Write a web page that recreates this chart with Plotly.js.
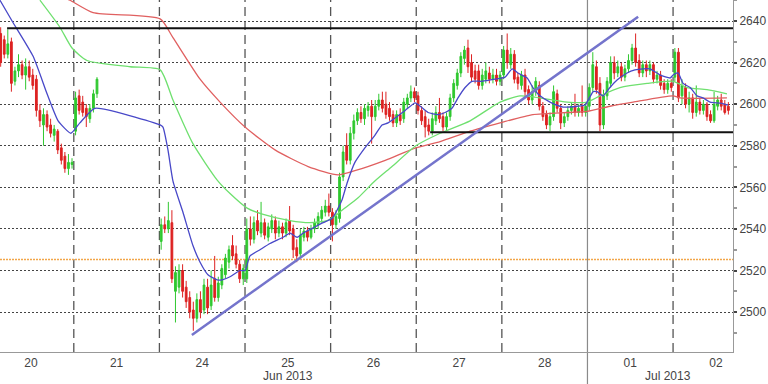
<!DOCTYPE html>
<html><head><meta charset="utf-8">
<script src="https://cdn.plot.ly/plotly-3.0.1.min.js"></script>
<style>html,body{margin:0;padding:0;background:#fff}#chart{width:768px;height:384px}</style>
</head><body><div id="chart"></div>
<script>
// ---- data ----
const dayLabels = ['20','21','24','25','26','27','28','01','02'];
const barsPerDay = 24;
const firstSlot = [3,0,0,0,0,0,0,0,0];
// [open, high, low, close]
const jun20 = [[2634,2637,2618,2620],[2631,2633,2622,2624],[2624,2636,2622,2629],[2630,2632,2606,2610],[2611,2618,2609,2616],[2616,2624,2613,2619],[2619,2621,2612,2614],[2614,2622,2607,2618],[2618,2621,2611,2613],[2614,2617,2607,2609],[2612,2614,2594,2597],[2597,2600,2589,2592],[2590,2598,2580,2595],[2595,2597,2587,2589],[2590,2593,2584,2586],[2585,2590,2582,2588],[2587,2588,2576,2578],[2579,2581,2571,2573],[2575,2577,2567,2569],[2569,2576,2566,2572],[2571,2574,2569,2572]];
const jun21 = [[2587,2606,2585,2603],[2604,2607,2595,2597],[2601,2604,2594,2596],[2598,2600,2589,2594],[2593,2600,2591,2598],[2598,2607,2596,2605],[2605,2613,2603,2612]];
const jun24 = [[2534,2545,2530,2542],[2542,2546,2538,2540],[2540,2553,2538,2544],[2543,2549,2514,2516],[2510,2522,2495,2519],[2512,2523,2509,2520],[2520,2523,2507,2510],[2512,2515,2502,2505],[2507,2510,2497,2500],[2501,2505,2491,2497],[2497,2509,2495,2506],[2506,2510,2497,2500],[2501,2516,2499,2513],[2512,2516,2499,2502],[2503,2520,2501,2513],[2516,2527,2505,2507],[2507,2517,2505,2514],[2513,2523,2511,2521],[2518,2528,2516,2526],[2524,2532,2521,2530],[2532,2537,2525,2527],[2528,2532,2521,2523],[2523,2525,2514,2516],[2516,2523,2513,2521]];
const jun25 = [[2516,2545,2514,2540],[2540,2546,2532,2535],[2535,2546,2533,2543],[2544,2549,2537,2539],[2538,2553,2536,2543],[2543,2545,2535,2537],[2536,2543,2534,2541],[2540,2547,2538,2544],[2544,2546,2535,2538],[2538,2544,2536,2541],[2541,2543,2535,2538],[2538,2545,2536,2543],[2544,2551,2537,2539],[2540,2542,2526,2530],[2531,2535,2524,2527],[2528,2540,2526,2537],[2536,2541,2534,2539],[2539,2541,2534,2536],[2536,2542,2535,2540],[2540,2545,2538,2543],[2542,2548,2540,2546],[2545,2551,2543,2549],[2548,2554,2546,2551],[2551,2557,2546,2548]];
const jun26 = [[2548,2550,2534,2542],[2542,2549,2540,2546],[2545,2567,2543,2565],[2565,2580,2563,2577],[2580,2586,2571,2573],[2573,2589,2571,2586],[2586,2595,2583,2592],[2592,2598,2590,2596],[2596,2599,2591,2593],[2593,2600,2590,2598],[2597,2601,2594,2599],[2599,2602,2581,2594],[2594,2602,2592,2599],[2599,2605,2597,2602],[2602,2606,2596,2598],[2600,2606,2593,2595],[2598,2601,2592,2594],[2595,2597,2589,2591],[2591,2597,2589,2595],[2595,2598,2590,2592],[2593,2603,2591,2601],[2600,2605,2598,2603],[2603,2609,2601,2606],[2606,2608,2601,2603]];
const jun27 = [[2604,2606,2595,2597],[2597,2599,2590,2592],[2594,2597,2584,2589],[2590,2593,2585,2587],[2587,2596,2585,2593],[2592,2599,2590,2596],[2596,2603,2591,2593],[2594,2596,2587,2589],[2589,2596,2587,2594],[2594,2605,2592,2603],[2603,2612,2601,2610],[2609,2617,2607,2615],[2615,2625,2613,2623],[2622,2628,2619,2626],[2627,2631,2615,2618],[2620,2624,2611,2613],[2616,2619,2610,2612],[2616,2619,2607,2609],[2609,2617,2607,2614],[2612,2620,2610,2616],[2615,2618,2610,2612],[2612,2617,2610,2614],[2614,2617,2609,2611],[2611,2616,2609,2614]];
const jun28 = [[2614,2628,2612,2626],[2626,2634,2617,2620],[2619,2627,2617,2624],[2624,2626,2610,2612],[2613,2615,2607,2610],[2609,2616,2607,2614],[2614,2617,2603,2606],[2607,2609,2600,2602],[2602,2609,2600,2606],[2606,2613,2604,2611],[2609,2611,2597,2599],[2599,2601,2592,2594],[2595,2597,2588,2590],[2590,2596,2587,2594],[2594,2609,2592,2606],[2605,2607,2596,2598],[2598,2600,2588,2591],[2591,2596,2589,2594],[2594,2599,2592,2597],[2597,2601,2595,2599],[2599,2605,2594,2596],[2596,2600,2594,2598],[2599,2609,2594,2596],[2596,2601,2594,2599]];
const jul01 = [[2599,2610,2597,2608],[2608,2625,2606,2619],[2618,2621,2605,2607],[2610,2613,2587,2590],[2590,2607,2588,2604],[2604,2613,2602,2611],[2610,2623,2608,2620],[2620,2623,2612,2615],[2615,2621,2613,2618],[2618,2620,2611,2613],[2613,2619,2611,2617],[2617,2624,2615,2621],[2621,2629,2619,2627],[2627,2634,2618,2620],[2621,2624,2613,2615],[2615,2621,2613,2619],[2619,2621,2613,2616],[2616,2621,2614,2619],[2619,2620,2610,2612],[2612,2616,2610,2614],[2614,2616,2607,2609],[2610,2612,2605,2607],[2607,2612,2605,2610],[2610,2612,2606,2608]];
const jul02 = [[2613,2627,2611,2625],[2625,2627,2601,2603],[2604,2612,2600,2609],[2608,2610,2598,2600],[2600,2606,2596,2603],[2603,2605,2593,2596],[2596,2609,2594,2601],[2601,2603,2595,2597],[2597,2602,2595,2600],[2600,2601,2592,2594],[2595,2597,2591,2592],[2592,2606,2591,2600],[2599,2604,2597,2602],[2602,2605,2597,2599],[2600,2602,2595,2596],[2599,2601,2595,2597]];
const sessions = [jun20, jun21, jun24, jun25, jun26, jun27, jun28, jul01, jul02];

// moving averages (time in bar units, value)
const maFastT = [3.3,6.7,12.6,16.5,19.6,23.2,25.7,29.9,48.2,49.0,50.4,51.8,54.6,57.4,59.4,61.6,64.2,65.6,67.8,70.6,72.0,73.4,76.2,79.0,82.7,84.6,86.6,88.3,91.1,93.9,96.4,97.8,99.2,100.6,102.8,105.6,108.4,110.4,112.1,116.9,119.7,121.1,123.3,126.1,128.1,130.0,131.7,133.7,135.6,138.4,142.1,144.9,146.9,148.5,151.1,152.7,154.7,157.5,161.2,165.1,167.3,168.7,169.6,170.7,172.4,174.3,176.3,179.1,181.3,183.6,185.5,188.4,191.2,192.0,193.4,194.8,196.8,198.7,200.4,202.4,205.2,207.4];
const maFastV = [2650,2640,2623,2605,2592,2586,2591,2598,2590,2589,2578,2563,2548,2532,2524,2518,2515.5,2515.5,2517,2520,2520,2527,2530,2533,2536,2538,2536,2538,2540.5,2543,2545,2549,2554,2562,2572,2579,2585,2590,2591,2597,2600.6,2599,2596,2595,2596,2598,2603,2608,2611,2611,2612,2613,2617,2615,2612.6,2608,2604,2601,2598.6,2599,2599.6,2603.5,2606,2606,2604,2608,2611.6,2615,2616.5,2617,2617,2614,2612.6,2614,2615,2610,2608,2604,2603,2601,2600.5,2599.6];
const maMidT = [14.5,20.1,23.5,27.7,39.8,48.2,51.8,57.4,64.2,67.8,72.6,77.1,84.6,90.2,95.0,97.8,99.2,103.7,108.4,113.2,119.9,126.7,135.1,143.5,149.1,152.7,162.3,167.9,171.5,177.1,184.7,192.0,195.9,201.5,207.1];
const maMidV = [2650,2637,2627,2621,2618,2616.5,2602,2581,2563.5,2557,2550,2547,2544,2543,2544,2547,2549,2555,2563,2570,2580,2586,2592,2601,2604,2603.5,2601,2601,2604,2608,2610,2611,2608,2607,2605];
const maSlowT = [21.5,22.9,29.4,48.2,51.8,59.4,65.0,72.0,80.4,89.7,98.1,102.8,111.3,119.9,126.7,135.1,143.5,152.7,162.3,167.9,174.3,180.8,192.0,194.0,207.1];
const maSlowV = [2651,2650,2644,2641,2632,2612,2601,2589,2578,2570,2566,2568,2573,2579,2582,2587,2591,2595,2596,2596.5,2599,2601,2604,2603,2603];
const trendT = [57.1, 182.2];
const trendV = [2489, 2642];
const resistance = {level: 2636.5, from: 5.3};
const support = {level: 2586.5, from: 123.9};
const pivotLevel = 2525.3;
const monthLabels = [{text: 'Jun 2013', at: 84}, {text: 'Jul 2013', at: 190.5}];
const monthStartDay = 7; // index of '01'

// ---- build ----
const xRange = [3.31, 208.8];
const yRange = [2480.8, 2650.1];
const X = [], O = [], H = [], L = [], C = [];
sessions.forEach((bars, d) => {
  bars.forEach((b, k) => {
    X.push(d * barsPerDay + firstSlot[d] + k + 0.5);
    O.push(b[0]); H.push(b[1]); L.push(b[2]); C.push(b[3]);
  });
});
const dayCenters = dayLabels.map((_, d) => d * barsPerDay + barsPerDay / 2);

const font = 'Liberation Sans, Arial, sans-serif';
const traces = [
  {type: 'candlestick', x: X, open: O, high: H, low: L, close: C,
   increasing: {line: {color: '#2fc82f', width: 1}, fillcolor: '#2fc82f'},
   decreasing: {line: {color: '#dd2222', width: 1}, fillcolor: '#dd2222'},
   whiskerwidth: 0, hoverinfo: 'skip'},
  {type: 'scatter', mode: 'lines', x: maSlowT, y: maSlowV, line: {color: '#e06060', width: 1.3, shape: 'spline', smoothing: 0.6}, hoverinfo: 'skip'},
  {type: 'scatter', mode: 'lines', x: maMidT, y: maMidV, line: {color: '#6fe06f', width: 1.3, shape: 'spline', smoothing: 0.6}, hoverinfo: 'skip'},
  {type: 'scatter', mode: 'lines', x: maFastT, y: maFastV, line: {color: '#4848c8', width: 1.3, shape: 'spline', smoothing: 0.5}, hoverinfo: 'skip'},
  {type: 'scatter', mode: 'lines', x: [resistance.from, xRange[1]], y: [resistance.level, resistance.level], line: {color: '#111', width: 2}, hoverinfo: 'skip'},
  {type: 'scatter', mode: 'lines', x: [support.from, xRange[1]], y: [support.level, support.level], line: {color: '#111', width: 2}, hoverinfo: 'skip'},
  {type: 'scatter', mode: 'lines', x: trendT, y: trendV, line: {color: '#7474cc', width: 2.5}, hoverinfo: 'skip'}
];

const shapes = [];
for (let d = 1; d < dayLabels.length; d++) {
  const xb = d * barsPerDay;
  if (d === monthStartDay) {
    shapes.push({type: 'line', xref: 'x', yref: 'paper', x0: xb, x1: xb, y0: -0.1, y1: 1, line: {color: '#8a8a8a', width: 1.2}, layer: 'below'});
  } else {
    shapes.push({type: 'line', xref: 'x', yref: 'paper', x0: xb, x1: xb, y0: 0, y1: 1, line: {color: '#555', width: 1.3, dash: '9px,5px'}, layer: 'below'});
  }
}
shapes.push({type: 'line', xref: 'paper', yref: 'y', x0: 0, x1: 1, y0: pivotLevel, y1: pivotLevel, line: {color: '#f2a64a', width: 1.3, dash: '2px,1px'}, layer: 'below'});

const annotations = monthLabels.map(m => ({
  x: m.at, xref: 'x', y: -0.0909, yref: 'paper', text: m.text, showarrow: false,
  xanchor: 'center', yanchor: 'bottom', borderpad: 0, font: {family: font, size: 12, color: '#444'}
}));

const layout = {
  width: 768, height: 384,
  margin: {l: 0, r: 35, t: 0, b: 32},
  paper_bgcolor: '#fff', plot_bgcolor: '#fff',
  showlegend: false, hovermode: false,
  xaxis: {range: xRange, rangeslider: {visible: false}, tickmode: 'array', tickvals: dayCenters, ticktext: dayLabels,
    showgrid: false, zeroline: false, ticks: '', showline: true, linecolor: '#999', linewidth: 1,
    tickfont: {family: font, size: 12, color: '#444'}, fixedrange: true},
  yaxis: {side: 'right', range: yRange, tick0: 2500, dtick: 20, ticks: 'outside', ticklen: 3, tickwidth: 2, tickcolor: '#444',
    showgrid: true, gridcolor: '#444', gridwidth: 1, griddash: '2px,2px', zeroline: false,
    showline: true, linecolor: '#999', linewidth: 1,
    minor: {dtick: 10, ticks: 'outside', ticklen: 3, tickcolor: '#999', showgrid: false},
    tickfont: {family: font, size: 12, color: '#444'}, fixedrange: true},
  shapes: shapes,
  annotations: annotations
};

Plotly.newPlot('chart', traces, layout, {staticPlot: true, displayModeBar: false});
</script>
</body></html>
